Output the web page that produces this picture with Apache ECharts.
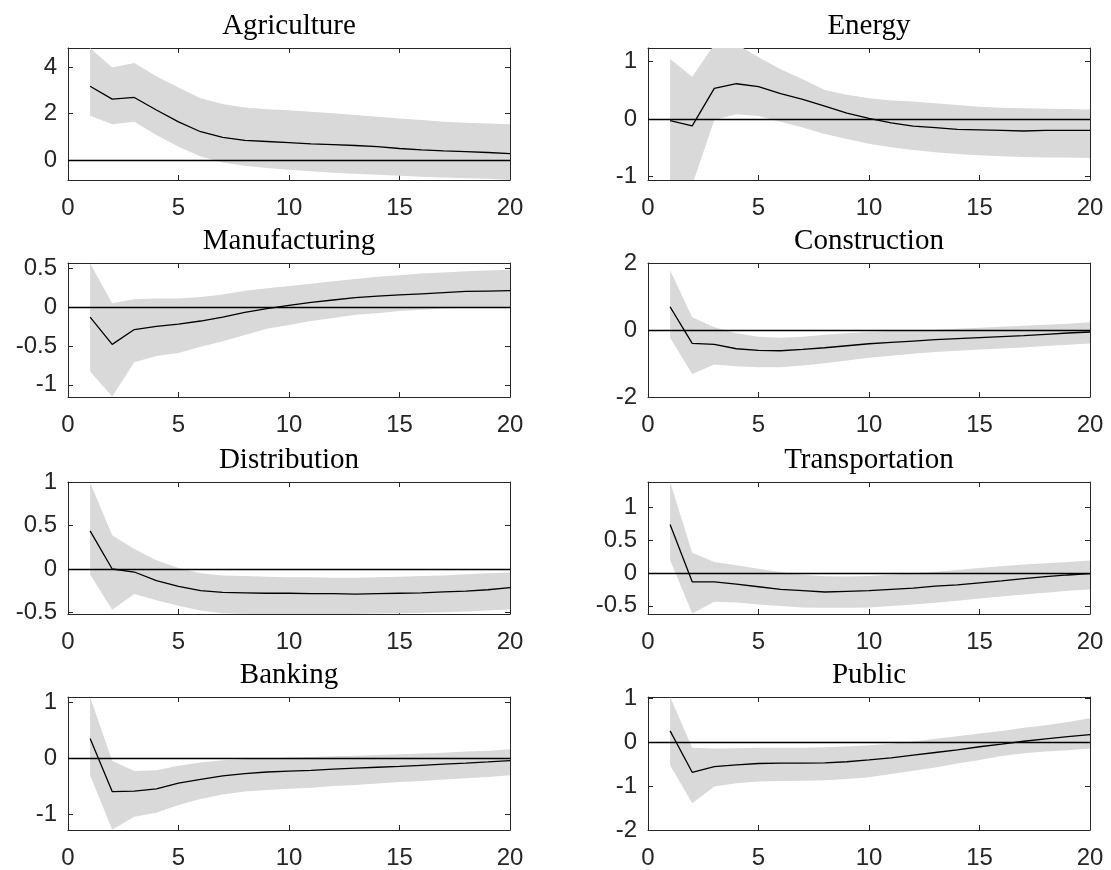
<!DOCTYPE html>
<html><head><meta charset="utf-8">
<script src="https://cdn.jsdelivr.net/npm/echarts@6/dist/echarts.min.js"></script>
<style>html,body{margin:0;padding:0;background:#fff}#c{width:1111px;height:870px}</style>
</head><body><div id="c"></div><script>
// ---------------- data ----------------
const periods = [1,2,3,4,5,6,7,8,9,10,11,12,13,14,15,16,17,18,19,20];
const sectorNames = ['Agriculture','Energy','Manufacturing','Construction','Distribution','Transportation','Banking','Public'];
const xTickValues = [0,5,10,15,20];

const irfAgriculture  = [3.17,2.62,2.69,2.15,1.64,1.22,0.98,0.85,0.80,0.75,0.70,0.67,0.63,0.58,0.50,0.44,0.40,0.37,0.33,0.28];
const highAgriculture = [4.81,3.97,4.17,3.60,3.12,2.65,2.41,2.26,2.18,2.14,2.08,2.01,1.94,1.86,1.79,1.72,1.65,1.61,1.57,1.54];
const lowAgriculture  = [1.91,1.54,1.65,1.08,0.58,0.16,-0.10,-0.24,-0.34,-0.41,-0.48,-0.54,-0.58,-0.63,-0.67,-0.71,-0.74,-0.77,-0.80,-0.85];

const irfEnergy  = [-0.03,-0.12,0.53,0.61,0.56,0.44,0.34,0.22,0.10,0.01,-0.07,-0.125,-0.15,-0.18,-0.19,-0.20,-0.21,-0.20,-0.20,-0.20];
const highEnergy = [1.04,0.73,1.29,1.30,1.07,0.86,0.69,0.50,0.42,0.36,0.32,0.30,0.27,0.24,0.21,0.195,0.185,0.175,0.17,0.165];
const lowEnergy  = [-1.30,-1.15,-0.02,0.08,0.05,-0.05,-0.15,-0.26,-0.35,-0.43,-0.49,-0.54,-0.58,-0.61,-0.63,-0.65,-0.66,-0.67,-0.67,-0.68];

const irfManufacturing  = [-0.13,-0.48,-0.29,-0.25,-0.22,-0.18,-0.13,-0.07,-0.02,0.02,0.06,0.09,0.12,0.14,0.155,0.17,0.185,0.20,0.205,0.21];
const highManufacturing = [0.56,0.05,0.10,0.11,0.11,0.13,0.16,0.21,0.24,0.27,0.30,0.33,0.36,0.39,0.41,0.43,0.445,0.46,0.47,0.48];
const lowManufacturing  = [-0.83,-1.15,-0.71,-0.63,-0.59,-0.51,-0.44,-0.36,-0.28,-0.23,-0.18,-0.14,-0.10,-0.08,-0.05,-0.035,-0.02,-0.01,-0.01,-0.01];

const irfConstruction  = [0.69,-0.40,-0.43,-0.56,-0.61,-0.62,-0.58,-0.53,-0.47,-0.41,-0.37,-0.33,-0.29,-0.26,-0.23,-0.20,-0.17,-0.13,-0.09,-0.06];
const highConstruction = [1.78,0.38,0.08,-0.10,-0.20,-0.23,-0.20,-0.14,-0.10,-0.06,-0.03,-0.01,0.01,0.04,0.07,0.10,0.13,0.16,0.19,0.23];
const lowConstruction  = [-0.23,-1.31,-1.03,-1.08,-1.11,-1.11,-1.06,-0.99,-0.91,-0.83,-0.77,-0.71,-0.66,-0.62,-0.58,-0.55,-0.52,-0.48,-0.44,-0.40];

const irfDistribution  = [0.44,0.00,-0.035,-0.135,-0.20,-0.25,-0.27,-0.275,-0.28,-0.28,-0.285,-0.285,-0.29,-0.285,-0.28,-0.275,-0.265,-0.255,-0.24,-0.215];
const highDistribution = [1.00,0.39,0.23,0.10,0.01,-0.05,-0.075,-0.08,-0.09,-0.095,-0.095,-0.10,-0.10,-0.095,-0.09,-0.08,-0.075,-0.06,-0.05,-0.04];
const lowDistribution  = [-0.065,-0.47,-0.29,-0.36,-0.425,-0.48,-0.51,-0.52,-0.52,-0.52,-0.52,-0.52,-0.52,-0.515,-0.51,-0.505,-0.50,-0.49,-0.48,-0.465];

const irfTransportation  = [0.74,-0.135,-0.135,-0.17,-0.21,-0.25,-0.27,-0.29,-0.28,-0.27,-0.25,-0.23,-0.20,-0.18,-0.15,-0.12,-0.085,-0.055,-0.03,-0.01];
const highTransportation = [1.39,0.31,0.17,0.12,0.065,0.015,-0.025,-0.05,-0.055,-0.045,-0.025,-0.005,0.02,0.045,0.075,0.105,0.13,0.15,0.17,0.19];
const lowTransportation  = [0.20,-0.62,-0.44,-0.45,-0.48,-0.505,-0.525,-0.53,-0.53,-0.525,-0.505,-0.48,-0.455,-0.425,-0.39,-0.36,-0.33,-0.30,-0.27,-0.25];

const irfBanking  = [0.36,-0.59,-0.58,-0.54,-0.44,-0.37,-0.31,-0.27,-0.24,-0.225,-0.21,-0.19,-0.17,-0.155,-0.14,-0.12,-0.10,-0.083,-0.06,-0.035];
const highBanking = [1.10,-0.04,-0.22,-0.21,-0.13,-0.07,-0.03,-0.01,0.00,0.02,0.03,0.04,0.05,0.065,0.077,0.09,0.105,0.125,0.14,0.165];
const lowBanking  = [-0.30,-1.27,-1.04,-0.97,-0.83,-0.72,-0.64,-0.59,-0.56,-0.54,-0.52,-0.49,-0.47,-0.445,-0.42,-0.40,-0.375,-0.35,-0.33,-0.30];

const irfPublic  = [0.25,-0.69,-0.56,-0.52,-0.49,-0.48,-0.48,-0.475,-0.45,-0.41,-0.36,-0.30,-0.24,-0.18,-0.11,-0.05,0.015,0.07,0.12,0.165];
const highPublic = [1.02,-0.13,-0.15,-0.145,-0.135,-0.135,-0.13,-0.12,-0.105,-0.075,-0.04,0.01,0.07,0.13,0.19,0.25,0.32,0.38,0.45,0.535];
const lowPublic  = [-0.53,-1.39,-1.01,-0.94,-0.90,-0.89,-0.88,-0.87,-0.84,-0.80,-0.73,-0.655,-0.58,-0.49,-0.41,-0.32,-0.255,-0.22,-0.19,-0.15];

const yTickValues = [[0,2,4],[-1,0,1],[-1,-0.5,0,0.5],[-2,0,2],[-0.5,0,0.5,1],[-0.5,0,0.5,1],[-1,0,1],[-2,-1,0,1]];
const yMinValues = [-0.85,-1.06,-1.157,-2,-0.52,-0.626,-1.276,-2];
const yMaxValues = [4.81,1.23,0.566,2,1.005,1.39,1.10,1.02];

const irfs  = [irfAgriculture, irfEnergy, irfManufacturing, irfConstruction, irfDistribution, irfTransportation, irfBanking, irfPublic];
const highs = [highAgriculture, highEnergy, highManufacturing, highConstruction, highDistribution, highTransportation, highBanking, highPublic];
const lows  = [lowAgriculture, lowEnergy, lowManufacturing, lowConstruction, lowDistribution, lowTransportation, lowBanking, lowPublic];

// ---------------- layout ----------------
const colLeft = [68, 648];
const plotW = 442;
const rowTop = [48, 263, 482, 697];
const rowH = [132, 134, 132, 134];
const axisColor = '#262626';
const tickFont = 'Liberation Sans';

function bandRenderItem(params, api) {
  if (params.dataIndexInside !== 0) return null;
  const n = params.dataInsideLength;
  const upper = [], lower = [];
  for (let k = 0; k < n; k++) {
    const x = api.value(0, k);
    upper.push(api.coord([x, api.value(2, k)]));
    lower.push(api.coord([x, api.value(1, k)]));
  }
  const pts = upper.concat(lower.reverse());
  const cs = params.coordSys;
  return {
    type: 'polygon', shape: {points: pts},
    style: {fill: '#d9d9d9', stroke: null},
    clipPath: {type: 'rect', shape: {x: cs.x, y: cs.y, width: cs.width, height: cs.height}}
  };
}

const grids = [], xAxes = [], yAxes = [], series = [], graphics = [];
sectorNames.forEach((name, i) => {
  const r = Math.floor(i / 2), c = i % 2;
  grids.push({left: colLeft[c], top: rowTop[r], width: plotW, height: rowH[r], containLabel: false});
  const lineSty = {color: axisColor, width: 1};
  const xBase = {gridIndex: i, type: 'value', min: 0, max: 20, splitLine: {show: false},
    axisLine: {show: true, onZero: false, lineStyle: lineSty},
    axisTick: {show: true, inside: true, length: 5, customValues: xTickValues, lineStyle: lineSty}};
  xAxes.push(Object.assign({}, xBase, {position: 'bottom',
    axisLabel: {show: true, customValues: xTickValues, fontSize: 24, fontFamily: tickFont, color: axisColor, margin: 16}}));
  xAxes.push(Object.assign({}, xBase, {position: 'top', axisLabel: {show: false}}));
  const yBase = {gridIndex: i, type: 'value', min: yMinValues[i], max: yMaxValues[i], splitLine: {show: false},
    axisLine: {show: true, onZero: false, lineStyle: lineSty},
    axisTick: {show: true, inside: true, length: 5, customValues: yTickValues[i], lineStyle: lineSty}};
  yAxes.push(Object.assign({}, yBase, {position: 'left',
    axisLabel: {show: true, customValues: yTickValues[i], fontSize: 24, fontFamily: tickFont, color: axisColor, margin: 11}}));
  yAxes.push(Object.assign({}, yBase, {position: 'right', axisLabel: {show: false}}));

  const xi = 2 * i, yi = 2 * i;
  series.push({type: 'custom', xAxisIndex: xi, yAxisIndex: yi, silent: true, z: 1,
    renderItem: bandRenderItem, encode: {x: 0, y: [1, 2]},
    data: periods.map((p, k) => [p, lows[i][k], highs[i][k]])});
  series.push({type: 'line', xAxisIndex: xi, yAxisIndex: yi, symbol: 'none', silent: true,
    lineStyle: {color: '#000', width: 1.3}, z: 5,
    markLine: {silent: true, symbol: 'none', label: {show: false}, animation: false,
      lineStyle: {color: '#000', width: 1.3, type: 'solid'}, data: [{yAxis: 0}]},
    data: periods.map((p, k) => [p, irfs[i][k]])});

  graphics.push({type: 'text', x: colLeft[c] + plotW / 2, y: rowTop[r] - 36,
    style: {text: name, font: '29px "Liberation Serif"', fill: '#000', textAlign: 'center', textVerticalAlign: 'top'}});
});

const chart = echarts.init(document.getElementById('c'), null, {renderer: 'canvas'});
chart.setOption({animation: false, backgroundColor: '#fff', grid: grids, xAxis: xAxes, yAxis: yAxes, series: series, graphic: graphics});
</script></body></html>
